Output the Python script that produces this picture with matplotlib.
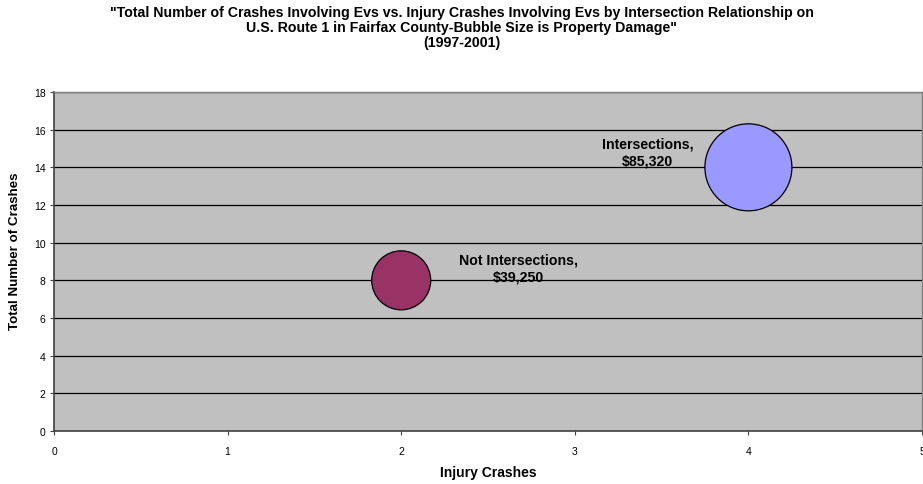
import matplotlib
matplotlib.use("Agg")
import matplotlib.pyplot as plt

plt.rcParams['font.family'] = ['Liberation Sans', 'DejaVu Sans']

# Crash data by intersection relationship
categories = ["Intersections", "Not Intersections"]
injury_crashes = [4, 2]
total_crashes = [14, 8]
property_damage = [85320, 39250]
colors = ["#9999FF", "#993366"]
label_offsets = [(-101, 15), (117, 12)]  # pixel offsets of data labels from bubble centres

yticks = list(range(0, 19, 2))
xticks = list(range(0, 6))

W, H, DPI = 923, 485, 100
PX = 72 / DPI  # points per pixel
fig = plt.figure(figsize=(W / DPI, H / DPI), dpi=DPI)
ax = fig.add_axes([54 / W, 1 - 432 / H, (922 - 54) / W, (432 - 93) / H])

ax.set_facecolor("#C0C0C0")
ax.set_xlim(0, 5)
ax.set_ylim(0, 18)
ax.set_xticks(xticks)
ax.set_yticks(yticks)
ax.tick_params(axis='both', labelsize=7.5, length=3, width=0.8, color='#404040')
ax.tick_params(axis='x', pad=8)
ax.tick_params(axis='y', pad=3)

for y in yticks[1:]:
    ax.axhline(y, color='black', lw=0.9, zorder=1)

for side in ['top', 'right']:
    ax.spines[side].set_color('#808080')
    ax.spines[side].set_linewidth(1.0)
for side in ['left', 'bottom']:
    ax.spines[side].set_color('#404040')
    ax.spines[side].set_linewidth(1.2)

# bubble area proportional to property damage
diam_pt_max = 87 * PX
scale = diam_pt_max ** 2 / max(property_damage)
sizes = [v * scale for v in property_damage]

ax.scatter(injury_crashes, total_crashes, s=sizes, c=colors,
           edgecolors='black', linewidths=0.9, zorder=3)

for cat, x, y, v, off in zip(categories, injury_crashes, total_crashes,
                             property_damage, label_offsets):
    ax.annotate(f"{cat},\n${v:,}", xy=(x, y),
                xytext=(off[0] * PX, off[1] * PX),
                textcoords='offset points', ha='center', va='center',
                fontsize=10.2, fontweight='bold', zorder=4, linespacing=1.3)

ax.set_xlabel("Injury Crashes", fontsize=10, fontweight='bold')
ax.xaxis.set_label_coords(0.5, -(473 - 432) / (432 - 93), transform=ax.transAxes)
ax.xaxis.label.set_va('center')
ax.set_ylabel("Total Number of Crashes", fontsize=9.6, fontweight='bold')
ax.yaxis.set_label_coords(-(54 - 15) / (922 - 54), (432 - 251) / (432 - 93))
ax.yaxis.label.set_va('center')

fig.text(0.5, 1 - 6 / H,
         '"Total Number of Crashes Involving Evs vs. Injury Crashes Involving Evs by Intersection Relationship on\n'
         'U.S. Route 1 in Fairfax County-Bubble Size is Property Damage"\n(1997-2001)',
         ha='center', va='top', fontsize=10.2, fontweight='bold', linespacing=1.08)

fig.savefig("out.png", dpi=DPI)
